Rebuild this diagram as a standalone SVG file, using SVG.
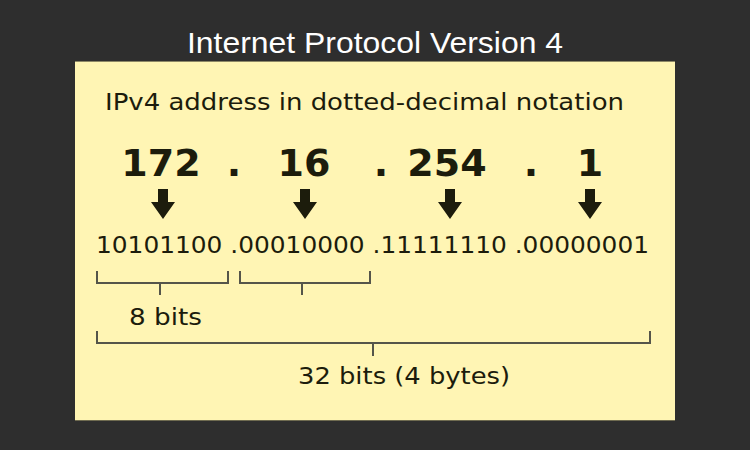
<svg xmlns="http://www.w3.org/2000/svg" width="750" height="450" viewBox="0 0 750 450">
  <style>
    .title { font-family: "Liberation Sans", Arial, sans-serif; font-size: 30px; fill: #ffffff; }
    .txt { font-family: "DejaVu Sans", Verdana, sans-serif; font-size: 23px; fill: #1c1c0c; }
    .num { font-family: "DejaVu Sans", Verdana, sans-serif; font-size: 38px; font-weight: bold; fill: #1c1c0c; text-anchor: middle; }
    .brk { fill: none; stroke: #55554a; stroke-width: 2; }
    .arw { fill: #1c1c0c; }
  </style>
  <defs>
    <path id="arrow" d="M-5,0 H5 V13 H12 L0,30 L-12,13 H-5 Z"/>
  </defs>
  <rect x="0" y="0" width="750" height="450" fill="#2e2e2e"/>
  <text class="title" x="375" y="53" text-anchor="middle" textLength="376" lengthAdjust="spacingAndGlyphs">Internet Protocol Version 4</text>
  <g id="panel">
    <rect x="75" y="61" width="600" height="360" fill="#fff5b4"/>
    <line x1="75" y1="61.5" x2="675" y2="61.5" stroke="#8c8766" stroke-width="1"/>
    <line x1="75" y1="420.5" x2="675" y2="420.5" stroke="#6f6b50" stroke-width="1"/>
  </g>
  <g id="heading">
    <text class="txt" x="105" y="110" textLength="519" lengthAdjust="spacingAndGlyphs">IPv4 address in dotted-decimal notation</text>
  </g>
  <g id="decimal">
    <text class="num" x="161" y="176">172</text>
    <text class="num" x="234" y="176">.</text>
    <text class="num" x="304" y="176">16</text>
    <text class="num" x="381" y="176">.</text>
    <text class="num" x="447" y="176">254</text>
    <text class="num" x="531" y="176">.</text>
    <text class="num" x="590" y="176">1</text>
  </g>
  <g id="connectors">
    <use href="#arrow" class="arw" x="163" y="189"/>
    <use href="#arrow" class="arw" x="305" y="189"/>
    <use href="#arrow" class="arw" x="450" y="189"/>
    <use href="#arrow" class="arw" x="590" y="189"/>
  </g>
  <g id="binary">
    <text class="txt" x="96" y="253" textLength="553" lengthAdjust="spacingAndGlyphs">10101100 .00010000 .11111110 .00000001</text>
  </g>
  <g id="brackets">
    <path class="brk" d="M97,271 V283 H228 V271 M160,283 V295"/>
    <path class="brk" d="M240,271 V283 H370 V271 M302,283 V295"/>
    <path class="brk" d="M97,331 V343 H650 V331 M373,343 V356"/>
  </g>
  <g id="labels">
    <text class="txt" x="129" y="325" textLength="73" lengthAdjust="spacingAndGlyphs">8 bits</text>
    <text class="txt" x="298" y="384" textLength="212" lengthAdjust="spacingAndGlyphs">32 bits (4 bytes)</text>
  </g>
</svg>
